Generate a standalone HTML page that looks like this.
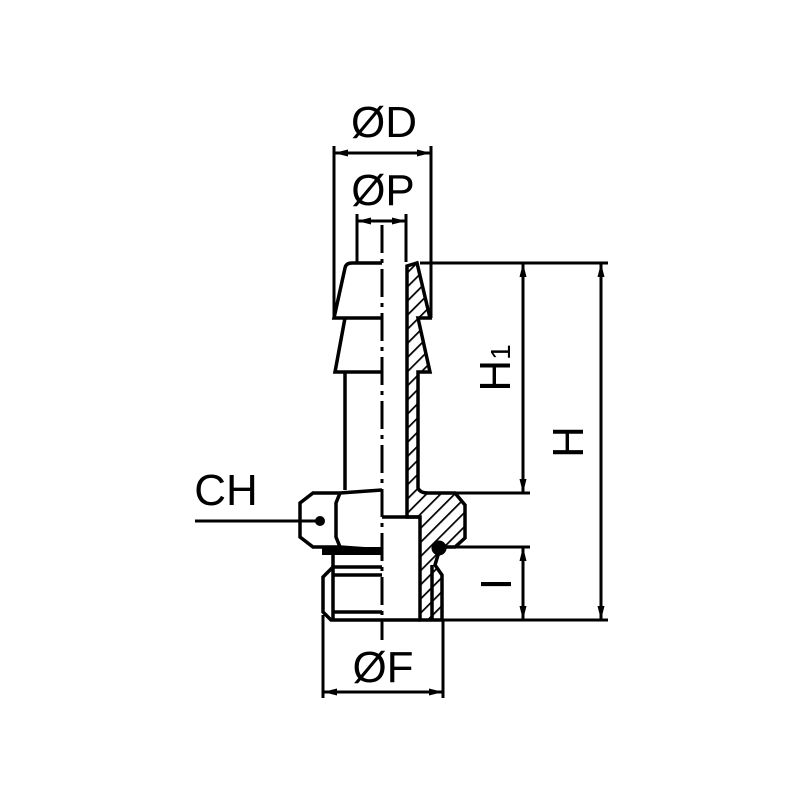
<!DOCTYPE html>
<html><head><style>body{margin:0;background:#fff}svg{display:block}</style></head><body>
<svg width="800" height="800" viewBox="0 0 800 800" xmlns="http://www.w3.org/2000/svg">
<defs>
<pattern id="h" patternUnits="userSpaceOnUse" width="10" height="10" patternTransform="rotate(45)">
<rect width="10" height="10" fill="#fff"/><line x1="0" y1="0" x2="0" y2="10" stroke="#000" stroke-width="3.5"/>
</pattern>
<marker id="a" viewBox="0 0 14 7" refX="14" refY="3.5" markerWidth="14" markerHeight="7" orient="auto-start-reverse" markerUnits="userSpaceOnUse"><path d="M0,0 L14,3.5 L0,7 z" fill="#000"/></marker>
</defs>
<g fill="none" stroke="#000" stroke-width="3.5" stroke-linejoin="miter">
<path d="M407,266 L417,263 L430,318 L418,318 L430,372 L418,372 L418,488 Q420,493 428,493 L455,493 L465,505 L465,538 L455,547 L446,547 L438,555 L435,565 L442,575 L442,620 L420,620 L420,517 L407,517 Z" fill="url(#h)"/>
<line x1="432" y1="565" x2="432" y2="620"/>
<path d="M382,263 L352,263 Q346,263 345,268 L334,318 L382,318"/>
<path d="M345,318 L335,372 L382,372"/>
<line x1="345" y1="372" x2="345" y2="490"/>
<path d="M382,490 L340,493 L313,493 L300,503 L300,537 L313,547 L340,547 L382,550"/>
<path d="M340,493 L336,503 L336,537 L340,547"/>
<path d="M382,517 L420,517"/>
<line x1="382" y1="620" x2="420" y2="620"/>
<path d="M382,567 L333,567 L323,577 L323,612 L331,620 L382,620"/>
<line x1="333" y1="575" x2="382" y2="575"/>
<line x1="333" y1="612" x2="382" y2="612"/>
<line x1="333" y1="567" x2="333" y2="620"/>
<line x1="333" y1="555" x2="333" y2="567"/>
</g>
<rect x="322" y="547" width="60" height="8" fill="#000"/>
<circle cx="439" cy="548" r="7.5" fill="#000"/>
<line x1="382" y1="225" x2="382" y2="640" stroke="#000" stroke-width="3" stroke-dasharray="28,6,4,6"/>
<g stroke="#000" stroke-width="3" fill="none">
<line x1="334" y1="146" x2="334" y2="318"/>
<line x1="431" y1="146" x2="431" y2="318"/>
<line x1="334" y1="153" x2="431" y2="153" marker-start="url(#a)" marker-end="url(#a)"/>
<line x1="357" y1="214" x2="357" y2="262"/>
<line x1="406" y1="214" x2="406" y2="262"/>
<line x1="357" y1="221" x2="406" y2="221" marker-start="url(#a)" marker-end="url(#a)"/>
<line x1="420" y1="263" x2="608" y2="263"/>
<line x1="455" y1="493" x2="530" y2="493"/>
<line x1="455" y1="547" x2="530" y2="547"/>
<line x1="442" y1="620" x2="608" y2="620"/>
<line x1="523" y1="263" x2="523" y2="493" marker-start="url(#a)" marker-end="url(#a)"/>
<line x1="523" y1="547" x2="523" y2="620" marker-start="url(#a)" marker-end="url(#a)"/>
<line x1="601" y1="263" x2="601" y2="620" marker-start="url(#a)" marker-end="url(#a)"/>
<line x1="323" y1="615" x2="323" y2="698"/>
<line x1="443" y1="620" x2="443" y2="698"/>
<line x1="323" y1="692" x2="443" y2="692" marker-start="url(#a)" marker-end="url(#a)"/>
<line x1="195" y1="521" x2="320" y2="521"/>
</g>
<circle cx="320" cy="521" r="5" fill="#000"/>
<g font-family="Liberation Sans, sans-serif" font-size="44" fill="#000" text-anchor="middle">
<text x="384" y="137">ØD</text>
<text x="383" y="205">ØP</text>
<text x="383" y="682">ØF</text>
<text x="226" y="505">CH</text>
<text transform="translate(510,368) rotate(-90)">H<tspan font-size="28">1</tspan></text>
<text transform="translate(583,442) rotate(-90)">H</text>
<text transform="translate(511,584) rotate(-90)">I</text>
</g>
</svg>
</body></html>
